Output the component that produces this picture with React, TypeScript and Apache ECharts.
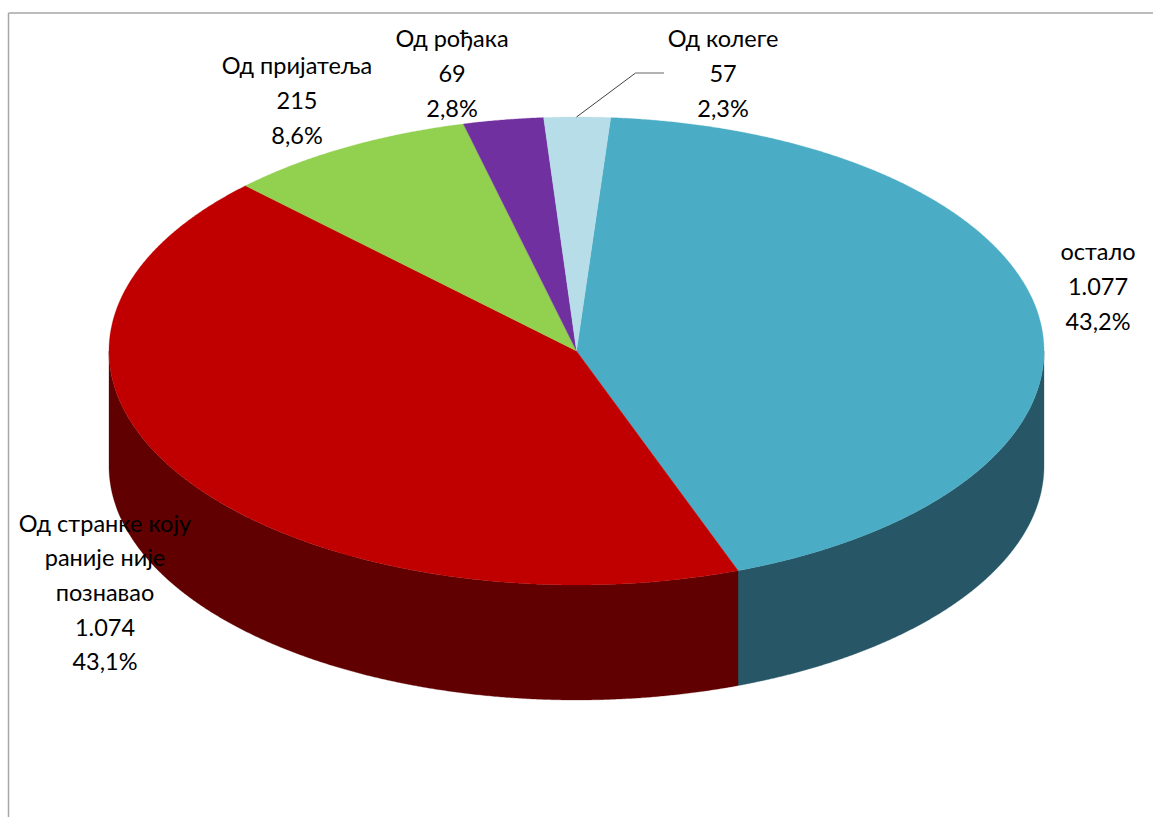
import React, { useEffect, useRef } from "react";
import * as echarts from "echarts";

const categories = ["остало", "Од странке коју\nраније није\nпознавао", "Од пријатеља", "Од рођака", "Од колеге"];
const values = [1077, 1074, 215, 69, 57];
const valueLabels = ["1.077", "1.074", "215", "69", "57"];
const percentLabels = ["43,2%", "43,1%", "8,6%", "2,8%", "2,3%"];
const topColors = ["#4BACC6", "#C00000", "#92D050", "#7030A0", "#B7DEE8"];
const sideColors = ["#275766", "#600000", "#4A6B28", "#38184F", "#5C7074"];

const CX = 576.5;
const CY = 351;
const RX = 467.5;
const RY = 234;
const DEPTH = 115;
const START_DEG = 4.2;
const FONT = "Lato, 'Open Sans', sans-serif";

const labelCentres: [number, number][] = [
  [1098, 286],
  [105, 592],
  [297, 100],
  [452, 73],
  [723, 73],
];

const total = values.reduce((a, b) => a + b, 0);

function rim(deg: number, dy = 0): number[] {
  const r = (deg * Math.PI) / 180;
  return [CX + RX * Math.sin(r), CY - RY * Math.cos(r) + dy];
}

function arcPoints(from: number, to: number, dy = 0): number[][] {
  const n = Math.max(2, Math.ceil((to - from) * 4));
  const pts: number[][] = [];
  for (let i = 0; i <= n; i++) pts.push(rim(from + ((to - from) * i) / n, dy));
  return pts;
}

function renderSlice(params: any, api: any) {
  const i = params.dataIndex;
  let before = 0;
  for (let k = 0; k < i; k++) before += values[k];
  const v = api.value(0);
  const a0 = START_DEG + (before / total) * 360;
  const a1 = a0 + (v / total) * 360;
  const children: any[] = [];
  // The wall is only visible on the front half of the disc (90° to 270°).
  for (const shift of [0, 360]) {
    const s = Math.max(a0, 90 + shift);
    const e = Math.min(a1, 270 + shift);
    if (e > s) {
      children.push({
        type: "polygon",
        shape: { points: [...arcPoints(s, e), ...arcPoints(s, e, DEPTH).reverse()] },
        style: { fill: sideColors[i], stroke: sideColors[i], lineWidth: 0.3 },
      });
    }
  }
  children.push({
    type: "polygon",
    shape: { points: [[CX, CY], ...arcPoints(a0, a1)] },
    style: { fill: topColors[i], stroke: topColors[i], lineWidth: 0.3 },
  });
  return { type: "group", children };
}

export default function App() {
  const ref = useRef<HTMLDivElement>(null);
  useEffect(() => {
    const chart = echarts.init(ref.current!, undefined, { renderer: "svg" });
    chart.setOption({
      animation: false,
      backgroundColor: "#ffffff",
      series: [
        {
          type: "custom",
          coordinateSystem: "none",
          renderItem: renderSlice,
          data: values.map((v) => [v]),
          silent: true,
          z: 2,
        },
      ],
      graphic: {
        elements: [
          { type: "line", z: 1, shape: { x1: 8.5, y1: 13, x2: 1153, y2: 13 }, style: { stroke: "#a6a6a6", lineWidth: 1.5 } },
          { type: "line", z: 1, shape: { x1: 8.5, y1: 13, x2: 8.5, y2: 817 }, style: { stroke: "#a6a6a6", lineWidth: 1.5 } },
          { type: "line", z: 10, shape: { x1: 576.5, y1: 117, x2: 635.5, y2: 73 }, style: { stroke: "#404040", lineWidth: 1 } },
          { type: "line", z: 10, shape: { x1: 635.5, y1: 73, x2: 664, y2: 73 }, style: { stroke: "#7f7f7f", lineWidth: 1.2 } },
          ...categories.map((name, i) => ({
            type: "text",
            z: 20,
            x: labelCentres[i][0],
            y: labelCentres[i][1],
            style: {
              text: `${name}\n${valueLabels[i]}\n${percentLabels[i]}`,
              fill: "#000000",
              font: `23.5px ${FONT}`,
              lineHeight: 34.7,
              align: "center",
              verticalAlign: "middle",
            },
          })),
        ],
      },
    });
    return () => chart.dispose();
  }, []);
  return <div ref={ref} style={{ position: "fixed", left: 0, top: 0, width: 1153, height: 817 }} />;
}
